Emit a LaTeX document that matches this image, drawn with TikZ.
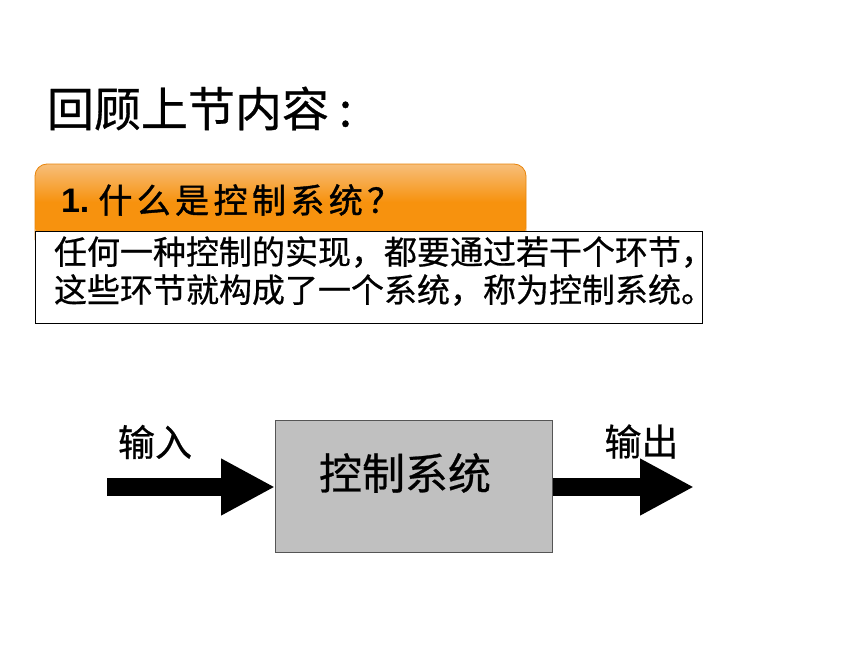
\documentclass[tikz,border=0pt]{standalone}
\usepackage{fontspec}
\setmainfont{Noto Sans CJK SC}
\newfontfamily\latinbold{Liberation Sans}[BoldFont=* Bold]
\usetikzlibrary{arrows.meta}
\definecolor{hdrtop}{HTML}{F7BE7A}
\definecolor{hdrbot}{HTML}{F7920E}
\definecolor{hdredge}{HTML}{E8840A}
\definecolor{boxgray}{HTML}{C0C0C0}
\definecolor{boxedge}{HTML}{555555}
\tikzset{
  txt/.style={inner sep=0pt, outer sep=0pt, text=black},
  bodytxt/.style={txt, anchor=west, font=\fontsize{33}{36}\selectfont\addfontfeature{FakeBold=0.6}},
  blockarrow/.style={line width=18pt, -{Triangle[length=54pt,width=53pt]}},
}
\begin{document}
\begin{tikzpicture}[x=1pt,y=-1pt]
\useasboundingbox[fill=white] (0,0) rectangle (860,645);
% title
\node[txt, anchor=west, font=\fontsize{47}{50}\selectfont\addfontfeature{FakeBold=0.6}] (title) at (47,108.5) {回顾上节内容\hspace{10pt}:};
% orange header
\shade[top color=hdrtop, bottom color=hdrbot, middle color=hdrbot, rounded corners=12pt]
  (35,240) -- (35,164) -- (526,164) -- (526,240) -- cycle;
\draw[hdredge, line width=0.8pt, rounded corners=12pt] (35,240) -- (35,164) -- (526,164) -- (526,240);
\node[txt, anchor=west] (head) at (61,200) {{\latinbold\bfseries\fontsize{34}{36}\selectfont 1.}\hspace{9pt}{\fontsize{34}{36}\selectfont\addfontfeature{LetterSpace=13,FakeBold=1.2}什么是控制系统？}};
% white text box
\node[draw=black, line width=1pt, fill=white, minimum width=667pt, minimum height=92pt, anchor=north west, inner sep=0pt] (body) at (35,231) {};
\node[bodytxt] (l1) at (54,252) {任何一种控制的实现，都要通过若干个环节，};
\node[bodytxt] (l2) at (54,290) {这些环节就构成了一个系统，称为控制系统。};
% control system block
\node[draw=boxedge, line width=1pt, fill=boxgray, minimum width=277pt, minimum height=132pt, anchor=north west, inner sep=0pt] (sys) at (275,420) {};
\node[txt, font=\fontsize{43}{46}\selectfont\addfontfeature{FakeBold=0.6}] (syslabel) at (405,473) {控制系统};
% arrows
\coordinate (inA) at (107,487);
\coordinate (outB) at (694,487);
\draw[blockarrow] (inA) -- (sys.west |- inA);
\draw[blockarrow] (sys.east |- outB) -- (outB);
\node[txt, font=\fontsize{37}{40}\selectfont\addfontfeature{FakeBold=0.6}] (inlabel) at (155,442) {输入};
\node[txt, font=\fontsize{37}{40}\selectfont\addfontfeature{FakeBold=0.6}] (outlabel) at (641.5,441.5) {输出};
\end{tikzpicture}
\end{document}
